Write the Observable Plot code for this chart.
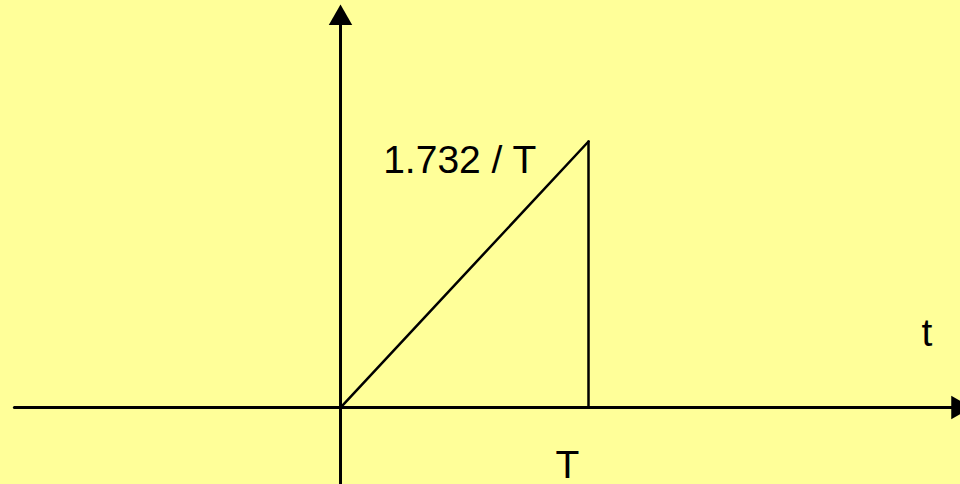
<!DOCTYPE html>
<html>
<head>
<meta charset="utf-8">
<script src="https://cdn.jsdelivr.net/npm/d3@7"></script>
<script src="https://cdn.jsdelivr.net/npm/@observablehq/plot@0.6"></script>
<style>
  html, body { margin: 0; padding: 0; background: #FFFF99; overflow: hidden; }
  #chart svg { display: block; }
</style>
</head>
<body>
<div id="chart"></div>
<script>
// Signal: ramp from 0 to 1.732/T over [0, T] (T = 1)
const T = 1;
const peak = 1.732 / T;
const rampPoints = [{t: 0, v: 0}, {t: T, v: peak}];
const dropPoints = [{t: T, v: peak}, {t: T, v: 0}];
const xAxisLine = [{t: -1.315, v: 0}, {t: 2.47, v: 0}];
const yAxisLine = [{t: 0, v: -0.51}, {t: 0, v: 2.5}];
const arrowHeads = [{t: 2.49, v: 0, rotate: 90}, {t: 0, v: 2.535, rotate: 0}];
const peakLabel = [{t: 0.172, v: 1.609, text: "1.732 / T"}];
const axisLabels = [
  {t: 2.365, v: 0.483, text: "t"},
  {t: T * 0.915, v: -0.376, text: "T"}
];

const chart = Plot.plot({
  width: 960,
  height: 484,
  margin: 0,
  style: {background: "#FFFF99", fontFamily: "'Liberation Sans', Arial, sans-serif", overflow: "visible"},
  x: {domain: [-1.371, 2.5], axis: null},
  y: {domain: [-0.501, 2.65], axis: null},
  marks: [
    Plot.line(xAxisLine, {x: "t", y: "v", stroke: "black", strokeWidth: 3}),
    Plot.line(yAxisLine, {x: "t", y: "v", stroke: "black", strokeWidth: 3}),
    Plot.line(rampPoints, {x: "t", y: "v", stroke: "black", strokeWidth: 2.5}),
    Plot.line(dropPoints, {x: "t", y: "v", stroke: "black", strokeWidth: 2.5}),
    Plot.dot(arrowHeads, {x: "t", y: "v", symbol: "triangle2", r: 11.2, fill: "black", stroke: "none", rotate: "rotate"}),
    Plot.text(peakLabel, {x: "t", y: "v", text: "text", textAnchor: "start", fontSize: 39, fill: "black"}),
    Plot.text(axisLabels, {x: "t", y: "v", text: "text", textAnchor: "middle", fontSize: 39, fill: "black"})
  ]
});
document.getElementById("chart").appendChild(chart);
</script>
</body>
</html>
